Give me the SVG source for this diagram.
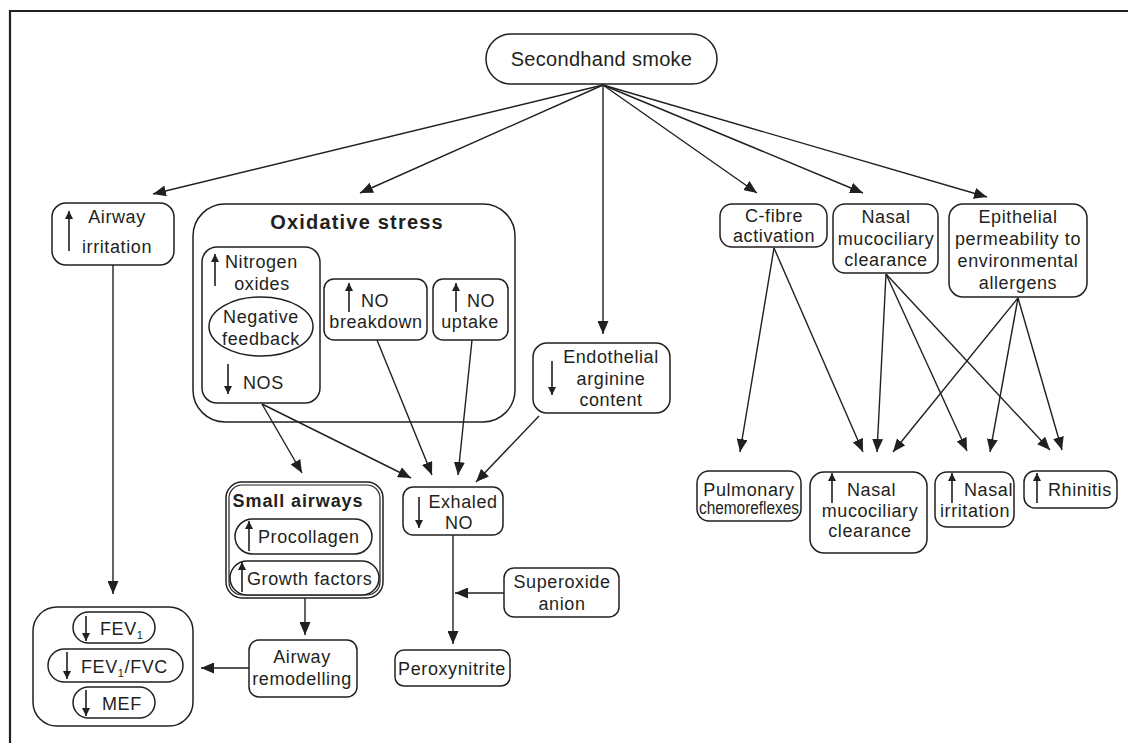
<svg xmlns="http://www.w3.org/2000/svg" width="1128" height="743" viewBox="0 0 1128 743">
<style>
.box{fill:#fff;stroke:#231f20;stroke-width:1.5}
.t{font-family:"Liberation Sans",Arial,sans-serif;font-size:18px;fill:#231f20;letter-spacing:0.6px}
.b{font-family:"Liberation Sans",Arial,sans-serif;font-weight:bold;fill:#231f20}
.c{stroke:#231f20;stroke-width:1.4;fill:none;marker-end:url(#ah)}
.s{stroke:#231f20;stroke-width:1.6;fill:none;marker-end:url(#sm)}
</style>
<defs>
<marker id="ah" markerUnits="userSpaceOnUse" markerWidth="13" markerHeight="11" refX="13" refY="5.5" orient="auto"><path d="M0,0 L13,5.5 L0,11 z" fill="#231f20"/></marker>
<marker id="sm" markerUnits="userSpaceOnUse" markerWidth="8" markerHeight="8" refX="8" refY="4" orient="auto"><path d="M0,0 L8,4 L0,8 z" fill="#231f20"/></marker>
</defs>
<rect width="1128" height="743" fill="#fff"/>
<path d="M10,743 L10,11 L1128,11" fill="none" stroke="#231f20" stroke-width="2.2"/>

<g id="secondhand-smoke">
<rect class="box" x="486" y="34" width="231" height="50" rx="25"/>
<text class="t" x="601.5" y="66" text-anchor="middle" style="font-size:20px;letter-spacing:0.3px">Secondhand smoke</text>
</g>

<g id="airway-irritation">
<rect class="box" x="52" y="203" width="122" height="62" rx="14"/>
<line class="s" x1="69" y1="251" x2="69" y2="211"/>
<text class="t" x="117" y="223" text-anchor="middle">Airway</text>
<text class="t" x="117" y="253" text-anchor="middle">irritation</text>
</g>

<g id="oxidative-stress">
<rect class="box" x="193" y="204" width="322" height="218" rx="32"/>
<text class="b" x="357" y="229" text-anchor="middle" style="font-size:20px;letter-spacing:1.2px">Oxidative stress</text>
</g>

<g id="nitrogen-oxides">
<rect class="box" x="202" y="247" width="118" height="156" rx="15"/>
<line class="s" x1="215" y1="286" x2="215" y2="254"/>
<text class="t" x="225" y="268">Nitrogen</text>
<text class="t" x="262" y="290" text-anchor="middle">oxides</text>
<ellipse class="box" cx="261" cy="326.5" rx="52" ry="29.5"/>
<text class="t" x="261" y="323" text-anchor="middle">Negative</text>
<text class="t" x="261" y="345" text-anchor="middle">feedback</text>
<line class="s" x1="228" y1="364" x2="228" y2="394"/>
<text class="t" x="243" y="389">NOS</text>
</g>

<g id="no-breakdown">
<rect class="box" x="324" y="279" width="103" height="61" rx="10"/>
<line class="s" x1="349" y1="312" x2="349" y2="283"/>
<text class="t" x="361" y="307">NO</text>
<text class="t" x="376" y="328" text-anchor="middle">breakdown</text>
</g>

<g id="no-uptake">
<rect class="box" x="433" y="279" width="75" height="61" rx="10"/>
<line class="s" x1="456" y1="312" x2="456" y2="283"/>
<text class="t" x="467" y="307">NO</text>
<text class="t" x="470" y="328" text-anchor="middle">uptake</text>
</g>

<g id="endothelial-arginine">
<rect class="box" x="533" y="343" width="137" height="70" rx="14"/>
<line class="s" x1="552" y1="361" x2="552" y2="395"/>
<text class="t" x="611" y="363" text-anchor="middle">Endothelial</text>
<text class="t" x="611" y="385" text-anchor="middle">arginine</text>
<text class="t" x="611" y="406" text-anchor="middle">content</text>
</g>

<g id="c-fibre">
<rect class="box" x="720" y="204" width="107" height="43" rx="12"/>
<text class="t" x="774" y="222" text-anchor="middle">C-fibre</text>
<text class="t" x="774" y="242" text-anchor="middle">activation</text>
</g>

<g id="nasal-mucociliary-top">
<rect class="box" x="833" y="204" width="105" height="69" rx="12"/>
<text class="t" x="886" y="223" text-anchor="middle">Nasal</text>
<text class="t" x="886" y="245" text-anchor="middle">mucociliary</text>
<text class="t" x="886" y="266" text-anchor="middle">clearance</text>
</g>

<g id="epithelial-permeability">
<rect class="box" x="949" y="204" width="138" height="93" rx="14"/>
<text class="t" x="1018" y="223" text-anchor="middle">Epithelial</text>
<text class="t" x="1018" y="245" text-anchor="middle">permeability to</text>
<text class="t" x="1018" y="267" text-anchor="middle">environmental</text>
<text class="t" x="1018" y="289" text-anchor="middle">allergens</text>
</g>

<g id="small-airways">
<rect class="box" x="226" y="482" width="157" height="116" rx="16"/>
<rect x="229" y="485" width="151" height="110" rx="13" fill="none" stroke="#231f20" stroke-width="1.2"/>
<text class="b" x="298" y="507" text-anchor="middle" style="font-size:18px;letter-spacing:0.9px">Small airways</text>
<rect class="box" x="235" y="519" width="137" height="35" rx="17.5"/>
<line class="s" x1="249" y1="551" x2="249" y2="521"/>
<text class="t" x="258" y="543">Procollagen</text>
<rect class="box" x="230" y="561" width="149" height="34" rx="17"/>
<line class="s" x1="242" y1="592" x2="242" y2="562"/>
<text class="t" x="247" y="585">Growth factors</text>
</g>

<g id="exhaled-no">
<rect class="box" x="403" y="487" width="100" height="48" rx="10"/>
<line class="s" x1="419" y1="497" x2="419" y2="528"/>
<text class="t" x="463" y="508" text-anchor="middle">Exhaled</text>
<text class="t" x="459" y="529" text-anchor="middle">NO</text>
</g>

<g id="superoxide-anion">
<rect class="box" x="504" y="568" width="115" height="49" rx="10"/>
<text class="t" x="562" y="588" text-anchor="middle">Superoxide</text>
<text class="t" x="562" y="610" text-anchor="middle">anion</text>
</g>

<g id="peroxynitrite">
<rect class="box" x="395" y="650" width="115" height="36" rx="9"/>
<text class="t" x="452" y="675" text-anchor="middle">Peroxynitrite</text>
</g>

<g id="airway-remodelling">
<rect class="box" x="249" y="640" width="108" height="57" rx="10"/>
<text class="t" x="302" y="663" text-anchor="middle">Airway</text>
<text class="t" x="302" y="685" text-anchor="middle">remodelling</text>
</g>

<g id="lung-function">
<rect class="box" x="33" y="607" width="160" height="119" rx="24"/>
<rect class="box" x="73" y="612" width="82" height="31" rx="15.5"/>
<line class="s" x1="86" y1="616" x2="86" y2="641"/>
<text class="t" x="100" y="635">FEV<tspan dy="4" style="font-size:11px">1</tspan></text>
<rect class="box" x="48" y="649" width="135" height="33" rx="16.5"/>
<line class="s" x1="67" y1="652" x2="67" y2="679"/>
<text class="t" x="81" y="673">FEV<tspan dy="4" style="font-size:11px">1</tspan><tspan dy="-4">/FVC</tspan></text>
<rect class="box" x="73" y="687" width="82" height="31" rx="15.5"/>
<line class="s" x1="86" y1="690" x2="86" y2="716"/>
<text class="t" x="102" y="710">MEF</text>
</g>

<g id="pulmonary-chemoreflexes">
<rect class="box" x="697" y="471" width="104" height="50" rx="12"/>
<text class="t" x="749" y="496" text-anchor="middle">Pulmonary</text>
<text class="t" x="749" y="514" text-anchor="middle" textLength="100" lengthAdjust="spacingAndGlyphs" style="letter-spacing:0">chemoreflexes</text>
</g>

<g id="nasal-mucociliary-bottom">
<rect class="box" x="810" y="472" width="117" height="81" rx="14"/>
<line class="s" x1="832" y1="503" x2="832" y2="473"/>
<text class="t" x="847" y="496">Nasal</text>
<text class="t" x="870" y="517" text-anchor="middle">mucociliary</text>
<text class="t" x="870" y="537" text-anchor="middle">clearance</text>
</g>

<g id="nasal-irritation">
<rect class="box" x="935" y="472" width="79" height="55" rx="12"/>
<line class="s" x1="952" y1="503" x2="952" y2="473"/>
<text class="t" x="964" y="496">Nasal</text>
<text class="t" x="975" y="517" text-anchor="middle">irritation</text>
</g>

<g id="rhinitis">
<rect class="box" x="1024" y="471" width="93" height="37" rx="11"/>
<line class="s" x1="1037" y1="503" x2="1037" y2="473"/>
<text class="t" x="1048" y="496">Rhinitis</text>
</g>

<g id="connectors">
<line class="c" x1="603" y1="85" x2="153" y2="194"/>
<line class="c" x1="603" y1="85" x2="360" y2="193"/>
<line class="c" x1="603" y1="85" x2="603" y2="334"/>
<line class="c" x1="603" y1="85" x2="757" y2="193"/>
<line class="c" x1="603" y1="85" x2="863" y2="193"/>
<line class="c" x1="603" y1="85" x2="987" y2="197"/>
<line class="c" x1="113" y1="265" x2="113" y2="594"/>
<line class="c" x1="262" y1="404" x2="302" y2="473"/>
<line class="c" x1="262" y1="404" x2="411" y2="478"/>
<line class="c" x1="377" y1="340" x2="432" y2="475"/>
<line class="c" x1="472" y1="340" x2="458" y2="475"/>
<line class="c" x1="539" y1="416" x2="476" y2="482"/>
<line class="c" x1="305" y1="598" x2="305" y2="635"/>
<line class="c" x1="249" y1="668" x2="201" y2="668"/>
<line class="c" x1="453" y1="535" x2="453" y2="644"/>
<line class="c" x1="504" y1="593" x2="455" y2="593"/>
<line class="c" x1="774" y1="248" x2="740" y2="452"/>
<line class="c" x1="774" y1="248" x2="863" y2="452"/>
<line class="c" x1="886" y1="274" x2="877" y2="452"/>
<line class="c" x1="886" y1="274" x2="967" y2="451"/>
<line class="c" x1="886" y1="274" x2="1050" y2="450"/>
<line class="c" x1="1018" y1="298" x2="893" y2="452"/>
<line class="c" x1="1018" y1="298" x2="990" y2="452"/>
<line class="c" x1="1018" y1="298" x2="1062" y2="450"/>
</g>
</svg>
